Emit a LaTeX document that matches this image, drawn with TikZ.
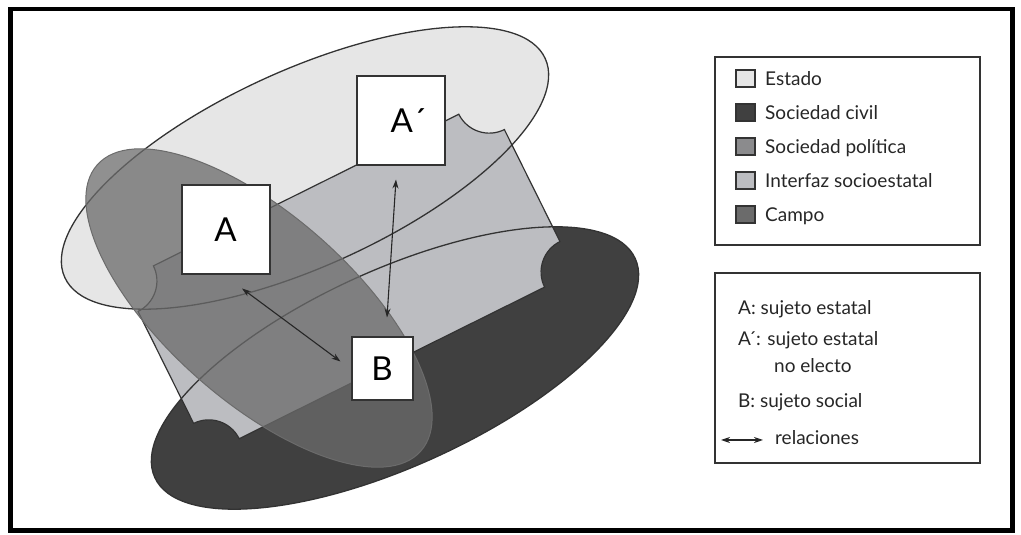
\documentclass[tikz,border=0pt]{standalone}
\usepackage{fontspec}
\setmainfont{Lato}
\usepackage{tikz}
\usetikzlibrary{arrows.meta, calc}

\definecolor{estado}{HTML}{E6E6E6}
\definecolor{civil}{HTML}{404040}
\definecolor{politica}{HTML}{8B8B8D}
\definecolor{interfaz}{HTML}{BCBDC1}
\definecolor{campo}{HTML}{6B6B6B}
\definecolor{linea}{HTML}{333333}

\tikzset{
  contorno/.style={draw=linea, line width=1.3pt},
  sujeto/.style={draw=linea, line width=2pt, fill=white, inner sep=0pt,
    font=\fontsize{33}{33}\selectfont},
  muestra/.style={draw=linea, line width=1.5pt, minimum width=19pt,
    minimum height=17pt, inner sep=0pt},
  leyenda/.style={anchor=base west, inner sep=0pt, text=black!85,
    font=\fontsize{19}{19}\selectfont},
  relacion/.style={{Stealth[length=9pt,width=6pt]}-{Stealth[length=9pt,width=6pt]},
    line width=1.1pt, draw=black!85},
}

\begin{document}
\begin{tikzpicture}[x=1pt, y=1pt]
  \useasboundingbox (0,0) rectangle (1021,535);

  % Estado y sociedad civil
  \fill[estado, shift={(305,367)}, rotate=24.5] (0,0) ellipse [x radius=264, y radius=98];
  \fill[civil, shift={(395,167)}, rotate=24.5] (0,0) ellipse [x radius=264, y radius=98];

  % interfaz socioestatal, esquinas recortadas
  \begin{scope}[shift={(349,258.5)}, rotate=26.4]
    \path[fill=interfaz, draw=linea, line width=1.2pt]
      (-170.5,96.5) -- (170.5,96.5) arc [start angle=180, end angle=270, radius=34]
      -- (204.5,-62.5) arc [start angle=90, end angle=180, radius=34]
      -- (-170.5,-96.5) arc [start angle=0, end angle=90, radius=34]
      -- (-204.5,62.5) arc [start angle=-90, end angle=0, radius=34] -- cycle;
  \end{scope}

  \draw[contorno, shift={(305,367)}, rotate=24.5] (0,0) ellipse [x radius=264, y radius=98];
  \draw[contorno, shift={(395,167)}, rotate=24.5] (0,0) ellipse [x radius=264, y radius=98];

  % campo
  \path[fill=campo, fill opacity=0.75, draw=black!58, line width=1pt,
    shift={(259,227)}, rotate=-41.5] (0,0) ellipse [x radius=216, y radius=93];

  % sujetos
  \node[sujeto, minimum width=88pt, minimum height=89pt] (A) at (225.5,305) {A};
  \node[sujeto, minimum width=88pt, minimum height=89pt] (Ap) at (400.5,414) {\hspace*{16pt}A´};
  \node[sujeto, minimum width=61pt, minimum height=63pt] (B) at (382,166) {B};

  \draw[relacion] ($(A.south)+(16.5,-13)$) -- ($(B.north west)+(-10,-25)$);
  \draw[relacion] ($(Ap.south)+(-4.5,-13)$) -- ($(B.north)+(5,19)$);

  % leyenda de colores
  \draw[linea, line width=1.5pt] (715,478) rectangle (980,290);
  \node[muestra, fill=estado] (mEstado) at (745.7,456.5) {};
  \node[muestra, fill=civil] (mCivil) at (745.7,422.5) {};
  \node[muestra, fill=politica] (mPolitica) at (745.7,388.5) {};
  \node[muestra, fill=interfaz] (mInterfaz) at (745.7,354.5) {};
  \node[muestra, fill=campo] (mCampo) at (745.7,320.5) {};
  \node[leyenda] (tEstado) at (765,449) {Estado};
  \node[leyenda] (tCivil) at (765,415) {Sociedad civil};
  \node[leyenda] (tPolitica) at (765,381) {Sociedad política};
  \node[leyenda] (tInterfaz) at (765,347) {Interfaz socioestatal};
  \node[leyenda] (tCampo) at (765,313) {Campo};

  % leyenda de sujetos
  \draw[linea, line width=1.5pt] (715,262) rectangle (980,72);
  \node[leyenda] (tA) at (738,220) {A: sujeto estatal};
  \node[leyenda] (tAp) at (738,189) {A\kern-2.5pt´: sujeto estatal};
  \node[leyenda] (tNo) at (774,162) {no electo};
  \node[leyenda] (tB) at (738,127) {B: sujeto social};
  \coordinate (flechaIzq) at (721,95);
  \coordinate (flechaDer) at (763,95);
  \draw[relacion] (flechaIzq) -- (flechaDer);
  \node[leyenda] (tRel) at (775,90) {relaciones};

  % marco
  \draw[line width=4.7pt] (10.3,526) rectangle (1012.5,4.5);
\end{tikzpicture}
\end{document}
